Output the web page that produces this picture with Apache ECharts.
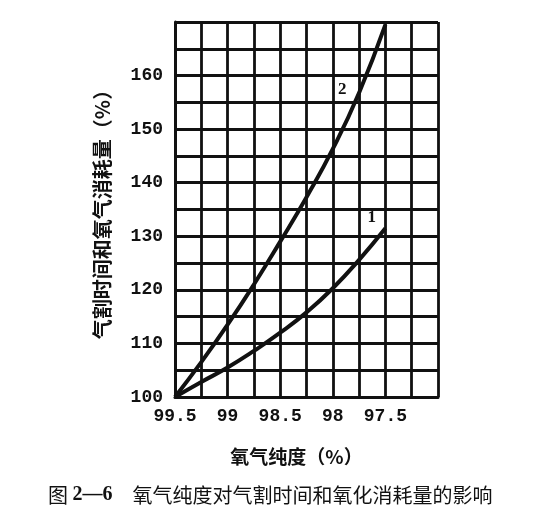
<!DOCTYPE html>
<html>
<head>
<meta charset="utf-8">
<script src="https://cdn.jsdelivr.net/npm/echarts@6/dist/echarts.min.js"></script>
<style>
    html, body { margin: 0; padding: 0; background: #fff; }
    #chart { width: 539px; height: 518px; }
</style>
</head>
<body>
<div id="chart"></div>
<script>
    // oxygen purity (%) — x axis runs from high to low purity
    var purity = [99.5, 99.25, 99, 98.75, 98.5, 98.25, 98, 97.75, 97.5];
    // curve 1 and curve 2, relative values (%)
    var curve1 = [100, 102.8, 105.5, 108.6, 112, 115.8, 120.3, 125.6, 131.5];
    var curve2 = [100, 106.5, 113.5, 121, 129, 137.3, 146.3, 156.8, 169.5];
    var xTickLabels = ['99.5', '99', '98.5', '98', '97.5'];
    var yTickLabels = ['100', '110', '120', '130', '140', '150', '160'];

    var chart = echarts.init(document.getElementById('chart'));

    function pairs(xs, ys) {
        return xs.map(function (x, i) { return [x, ys[i]]; });
    }

    var tickFont = {
        fontFamily: 'Liberation Mono',
        fontWeight: 'bold',
        fontSize: 18,
        color: '#111'
    };
    var lineStyle = { color: '#111', width: 2.8 };

    chart.setOption({
        animation: false,
        backgroundColor: '#fff',
        title: {
            text: '{a|图 }{b|2—6}{a|　氧气纯度对气割时间和氧化消耗量的影响}',
            left: 43,
            top: 480,
            textStyle: {
                rich: {
                    a: { fontFamily: 'Noto Sans CJK SC', fontWeight: 'normal', fontSize: 20, color: '#111' },
                    b: { fontFamily: 'Liberation Serif', fontWeight: 'bold', fontSize: 20, color: '#111' }
                }
            }
        },
        grid: { left: 175, right: 101, top: 22, bottom: 121 },
        xAxis: {
            type: 'value',
            inverse: true,
            min: 97,
            max: 99.5,
            interval: 0.25,
            name: '氧气纯度（%）',
            nameLocation: 'middle',
            nameGap: 50,
            nameTextStyle: {
                fontFamily: 'Noto Sans CJK SC',
                fontWeight: 'bold',
                fontSize: 19,
                color: '#111',
                padding: [0, 20, 0, 0]
            },
            axisLine: { lineStyle: { color: '#111', width: 3 } },
            axisTick: { show: false },
            axisLabel: Object.assign({
                margin: 10,
                formatter: function (v) {
                    var s = String(v);
                    return xTickLabels.indexOf(s) >= 0 ? s : '';
                }
            }, tickFont),
            splitLine: { show: true, lineStyle: lineStyle }
        },
        yAxis: {
            type: 'value',
            min: 100,
            max: 170,
            interval: 5,
            name: '气割时间和氧气消耗量（%）',
            nameLocation: 'middle',
            nameRotate: 90,
            nameGap: 63,
            nameTextStyle: {
                fontFamily: 'Noto Sans CJK SC',
                fontWeight: 'bold',
                fontSize: 20,
                color: '#111'
            },
            axisLine: { show: true, lineStyle: { color: '#111', width: 3 } },
            axisTick: { show: false },
            axisLabel: Object.assign({
                margin: 12,
                formatter: function (v) {
                    var s = String(v);
                    return yTickLabels.indexOf(s) >= 0 ? s : '';
                }
            }, tickFont),
            splitLine: { show: true, lineStyle: lineStyle }
        },
        series: [
            {
                name: '1',
                type: 'line',
                smooth: true,
                symbol: 'none',
                data: pairs(purity, curve1),
                lineStyle: { color: '#111', width: 4 },
                markPoint: {
                    symbol: 'circle',
                    symbolSize: 1,
                    itemStyle: { color: 'rgba(0,0,0,0)' },
                    label: { show: true, formatter: '1', color: '#111', fontFamily: 'Liberation Serif', fontWeight: 'bold', fontSize: 17 },
                    data: [{ coord: [97.63, 133.5] }]
                }
            },
            {
                name: '2',
                type: 'line',
                smooth: true,
                symbol: 'none',
                data: pairs(purity, curve2),
                lineStyle: { color: '#111', width: 4 },
                markPoint: {
                    symbol: 'circle',
                    symbolSize: 1,
                    itemStyle: { color: 'rgba(0,0,0,0)' },
                    label: { show: true, formatter: '2', color: '#111', fontFamily: 'Liberation Serif', fontWeight: 'bold', fontSize: 17 },
                    data: [{ coord: [97.91, 157.3] }]
                }
            }
        ]
    });
</script>
</body>
</html>
